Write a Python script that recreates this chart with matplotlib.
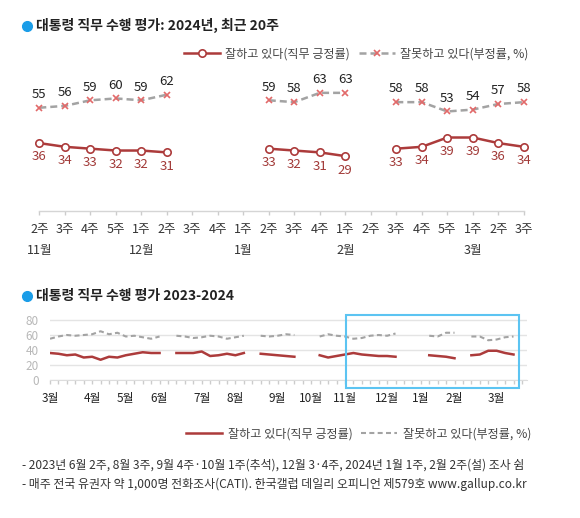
import numpy as np
import matplotlib
matplotlib.use('Agg')
import matplotlib.pyplot as plt
from matplotlib.lines import Line2D
from matplotlib.patches import Rectangle

plt.rcParams['font.family'] = ['Noto Sans CJK KR', 'DejaVu Sans']

# ---------------- data: recent 20 weeks ----------------
recent_weeks = ['2주', '3주', '4주', '5주', '1주', '2주', '3주', '4주', '1주', '2주',
                '3주', '4주', '1주', '2주', '3주', '4주', '5주', '1주', '2주', '3주']
recent_month_names = ['11월', '12월', '1월', '2월', '3월']
recent_month_start = [0, 4, 8, 12, 17]   # index of week where the month label sits
recent_approve = [36, 34, 33, 32, 32, 31, None, None, None, 33, 32, 31, 29, None,
                  33, 34, 39, 39, 36, 34]
recent_disapprove = [55, 56, 59, 60, 59, 62, None, None, None, 59, 58, 63, 63, None,
                     58, 58, 53, 54, 57, 58]

# ---------------- data: 2023-03 .. 2024-03 weekly ----------------
long_month_names = ['3월', '4월', '5월', '6월', '7월', '8월', '9월', '10월', '11월',
                    '12월', '1월', '2월', '3월']
long_weeks_per_month = [5, 4, 4, 5, 4, 5, 4, 4, 5, 4, 4, 5, 3]
long_approve = [36, 35, 33, 34, 30, 31, 27, 31, 30, 33, 35, 37, 36, 36, None,
                36, 36, 36, 38, 32, 33, 35, 33, 36, None, 35, 34, 33, 32, 31,
                None, None, 33, 30, 32, 34, 36, 34, 33, 32, 32, 31, None, None,
                None, 33, 32, 31, 29, None, 33, 34, 39, 39, 36, 34]
long_disapprove = [55, 58, 60, 59, 60, 61, 65, 61, 63, 58, 59, 57, 55, 58, None,
                   59, 58, 56, 57, 59, 58, 55, 57, 59, None, 59, 58, 59, 61, 60,
                   None, None, 58, 61, 59, 58, 55, 56, 59, 60, 59, 62, None, None,
                   None, 59, 58, 63, 63, None, 58, 58, 53, 54, 57, 58]
long_yticks = [0, 20, 40, 60, 80]

label_approve = '잘하고 있다(직무 긍정률)'
label_disapprove = '잘못하고 있다(부정률, %)'
title_top = '대통령 직무 수행 평가: 2024년, 최근 20주'
title_bottom = '대통령 직무 수행 평가 2023-2024'
notes = ['- 2023년 6월 2주, 8월 3주, 9월 4주·10월 1주(추석), 12월 3·4주, 2024년 1월 1주, 2월 2주(설) 조사 쉼',
         '- 매주 전국 유권자 약 1,000명 전화조사(CATI). 한국갤럽 데일리 오피니언 제579호 www.gallup.co.kr']

# ---------------- styles ----------------
RED = '#ac3b3b'
RED_TXT = '#a23a38'
GRAY = '#a3a3a3'
PINK = '#e26a6a'
BLUE = '#1a9de8'
TXT = '#333333'

W, H = 580, 518
fig = plt.figure(figsize=(W / 100, H / 100), dpi=100)
fig.patch.set_facecolor('white')


def fx(px):
    return px / W


def fy(py):
    return 1 - py / H


def to_arr(v):
    return np.array([np.nan if a is None else a for a in v], dtype=float)


# ---------------- titles ----------------
for ty, tt in [(25.7, title_top), (295.5, title_bottom)]:
    fig.add_artist(Line2D([fx(27)], [fy(ty)], marker='o', ms=7, color=BLUE,
                          transform=fig.transFigure))
    fig.text(fx(36), fy(ty), tt, fontsize=10, fontweight='bold', color='#222222',
             va='center', ha='left')

# ---------------- top chart ----------------
ax1 = fig.add_axes([fx(39.3), fy(211), fx(523.8) - fx(39.3), 141.4 / H])
x1 = np.arange(len(recent_weeks))
a1 = to_arr(recent_approve)
d1 = to_arr(recent_disapprove)
la, = ax1.plot(x1, a1, color=RED, lw=1.8, marker='o', ms=5.3, mfc='white',
               mec=RED, mew=1.2, clip_on=False, zorder=4)
ld, = ax1.plot(x1, d1, color=GRAY, lw=1.8, ls=(0, (2.8, 1.6)), marker='x',
               ms=4.0, mec=PINK, mew=1.2, clip_on=False, zorder=3)
for i in range(len(x1)):
    if not np.isnan(a1[i]):
        ax1.annotate(f'{int(a1[i])}', (x1[i], a1[i]), xytext=(0, -10),
                     textcoords='offset points', ha='center', va='center',
                     fontsize=9.5, color=RED_TXT, annotation_clip=False)
    if not np.isnan(d1[i]):
        ax1.annotate(f'{int(d1[i])}', (x1[i], d1[i]), xytext=(0, 9.5),
                     textcoords='offset points', ha='center', va='center',
                     fontsize=9.5, color='#222222', annotation_clip=False)
ax1.set_xlim(0, len(x1) - 1)
ax1.set_ylim(-0.5, 75.5)
ax1.set_yticks([])
ax1.set_xticks(x1)
ax1.set_xticklabels(recent_weeks)
ax1.tick_params(axis='x', length=3, width=1, color='#cccccc', labelsize=9,
                labelcolor=TXT, pad=6)
for s in ['left', 'right', 'top']:
    ax1.spines[s].set_visible(False)
ax1.spines['bottom'].set_color('#d5d5d5')
ax1.spines['bottom'].set_linewidth(1)
ax1.patch.set_alpha(0)
for name, pos in zip(recent_month_names, recent_month_start):
    ax1.annotate(name, (pos, 0), xycoords=('data', 'axes fraction'),
                 xytext=(0, -28.6), textcoords='offset points', ha='center',
                 va='center', fontsize=9, color=TXT, annotation_clip=False)

fig.legend(handles=[la, ld], labels=[label_approve, label_disapprove],
           loc='center left', bbox_to_anchor=(fx(184), fy(53.7)), ncol=2,
           frameon=False, fontsize=8.7, handlelength=3.0, handletextpad=0.42,
           columnspacing=0.7, borderpad=0, borderaxespad=0, labelcolor='#444444',
           numpoints=1)

# ---------------- bottom chart ----------------
ax2 = fig.add_axes([fx(50), fy(380), fx(527) - fx(50), 63.75 / H])
x2 = np.arange(len(long_approve))
a2 = to_arr(long_approve)
d2 = to_arr(long_disapprove)
lb_a, = ax2.plot(x2, a2, color=RED, lw=1.8, zorder=4)
lb_d, = ax2.plot(x2, d2, color=GRAY, lw=1.5, ls=(0, (2.4, 1.6)), zorder=3)
ax2.set_xlim(0, 56.6)
ax2.set_ylim(0, 85)
ax2.set_yticks(long_yticks)
ax2.yaxis.grid(True, color='#e4e4e4', lw=1)
ax2.set_axisbelow(True)
ax2.set_xticks(np.arange(0, 57))
ax2.set_xticklabels([])
ax2.tick_params(axis='x', length=3, width=1, color='#cccccc')
ax2.tick_params(axis='y', length=0, labelsize=8.5, labelcolor='#b8b8b8', pad=8)
for s in ['left', 'right', 'top']:
    ax2.spines[s].set_visible(False)
ax2.spines['bottom'].set_color('#dddddd')
month_starts = np.concatenate([[0], np.cumsum(long_weeks_per_month)[:-1]])
for name, pos in zip(long_month_names, month_starts):
    ax2.annotate(name, (pos, 0), xycoords=('data', 'axes fraction'),
                 xytext=(0, -13), textcoords='offset points', ha='center',
                 va='center', fontsize=8.5, color='#222222', annotation_clip=False)

# highlight box of the recent 20 weeks
first = len(long_approve) - len(recent_weeks)
last = len(long_approve) - 1
ax2.add_patch(Rectangle((first - 0.9, -10.7), (last + 0.7) - (first - 0.9), 97.4,
                        fill=False, ec='#5cc4f2', lw=1.5, clip_on=False, zorder=5))

fig.legend(handles=[lb_a, lb_d], labels=[label_approve, label_disapprove],
           loc='center left', bbox_to_anchor=(fx(186), fy(434)), ncol=2,
           frameon=False, fontsize=8.7, handlelength=3.0, handletextpad=0.45,
           columnspacing=0.7, borderpad=0, borderaxespad=0, labelcolor='#444444')

# ---------------- notes ----------------
fig.text(fx(22), fy(465), notes[0], fontsize=8.6, color=TXT, va='center', ha='left')
fig.text(fx(22), fy(484), notes[1], fontsize=8.6, color=TXT, va='center', ha='left')

fig.savefig('out.png', dpi=100, facecolor='white')
